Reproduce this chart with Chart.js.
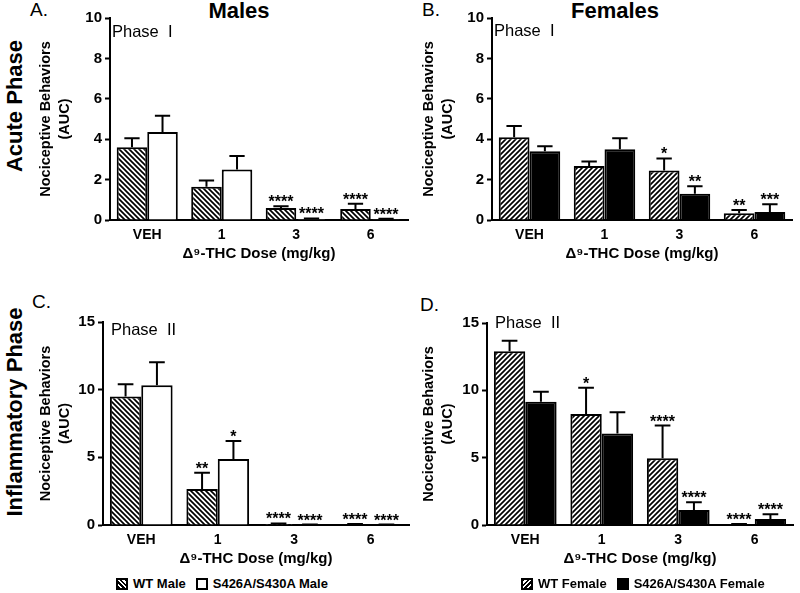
<!DOCTYPE html>
<html>
<head>
<meta charset="utf-8">
<script src="https://cdn.jsdelivr.net/npm/chart.js@4.4.1/dist/chart.umd.min.js"></script>
<style>
  body { margin: 0; background: #fff; }
  #wrap { position: relative; width: 800px; height: 593px; overflow: hidden; font-family: Arial, "Liberation Sans", sans-serif; color: #000; }
  canvas { position: absolute; }
  .lbl { position: absolute; line-height: 1; white-space: nowrap; }
  .panel { font-size: 19px; }
  .col { font-size: 22px; font-weight: bold; text-align: center; width: 120px; }
  .row { font-size: 22px; font-weight: bold; transform: translate(-50%, -50%) rotate(-90deg); }
  .legend { position: absolute; display: flex; align-items: center; font-size: 13px; font-weight: bold; white-space: nowrap; }
  .legend .box { width: 12px; height: 12px; box-sizing: border-box; border: 2px solid #000; margin-right: 5px; }
  .legend .txt { margin-right: 10px; }
</style>
</head>
<body>
<div id="wrap">
  <div class="lbl panel" style="left:30px;top:0">A.</div>
  <div class="lbl panel" style="left:422px;top:0">B.</div>
  <div class="lbl panel" style="left:32px;top:292px">C.</div>
  <div class="lbl panel" style="left:420px;top:295px">D.</div>
  <div class="lbl col" style="left:179px;top:0">Males</div>
  <div class="lbl col" style="left:555px;top:0">Females</div>
  <div class="lbl row" style="left:15px;top:106px">Acute Phase</div>
  <div class="lbl row" style="left:15px;top:412px">Inflammatory Phase</div>

  <canvas id="chartA" width="410" height="270" style="left:0;top:0"></canvas>
  <canvas id="chartB" width="400" height="270" style="left:400px;top:0"></canvas>
  <canvas id="chartC" width="410" height="295" style="left:0;top:280px"></canvas>
  <canvas id="chartD" width="400" height="295" style="left:400px;top:280px"></canvas>

  <div class="legend" style="left:116px;top:576px">
    <span class="box" style="background:repeating-linear-gradient(45deg,#000 0 1.6px,#fff 1.6px 3.4px)"></span><span class="txt">WT Male</span>
    <span class="box" style="background:#fff"></span><span class="txt">S426A/S430A Male</span>
  </div>
  <div class="legend" style="left:521px;top:576px">
    <span class="box" style="background:repeating-linear-gradient(-45deg,#000 0 1.6px,#fff 1.6px 3.4px)"></span><span class="txt">WT Female</span>
    <span class="box" style="background:#000"></span><span class="txt">S426A/S430A Female</span>
  </div>
</div>

<script>
// dose groups
const doses = ['VEH', '1', '3', '6'];

// Phase I (acute) - males
const acuteMaleWT = [3.6, 1.65, 0.6, 0.55];
const acuteMaleWTSem = [0.45, 0.3, 0.08, 0.25];
const acuteMaleWTSig = ['', '', '****', '****'];
const acuteMaleMut = [4.36, 2.5, 0.05, 0.04];
const acuteMaleMutSem = [0.8, 0.67, 0.03, 0.02];
const acuteMaleMutSig = ['', '', '****', '****'];

// Phase I (acute) - females
const acuteFemaleWT = [4.1, 2.67, 2.45, 0.33];
const acuteFemaleWTSem = [0.55, 0.23, 0.6, 0.17];
const acuteFemaleWTSig = ['', '', '*', '**'];
const acuteFemaleMut = [3.4, 3.5, 1.3, 0.4];
const acuteFemaleMutSem = [0.25, 0.55, 0.37, 0.38];
const acuteFemaleMutSig = ['', '', '**', '***'];

// Phase II (inflammatory) - males
const inflMaleWT = [9.5, 2.66, 0.08, 0.05];
const inflMaleWTSem = [0.9, 1.2, 0.04, 0.03];
const inflMaleWTSig = ['', '**', '****', '****'];
const inflMaleMut = [10.33, 4.87, 0.02, 0.02];
const inflMaleMutSem = [1.7, 1.33, 0.01, 0.01];
const inflMaleMutSig = ['', '*', '****', '****'];

// Phase II (inflammatory) - females
const inflFemaleWT = [12.9, 8.25, 4.95, 0.05];
const inflFemaleWTSem = [0.78, 1.95, 2.43, 0.03];
const inflFemaleWTSig = ['', '*', '****', '****'];
const inflFemaleMut = [9.15, 6.8, 1.12, 0.45];
const inflFemaleMutSem = [0.75, 1.57, 0.57, 0.35];
const inflFemaleMutSig = ['', '', '****', '****'];

const FONT = 'Arial, "Liberation Sans", sans-serif';

// diagonal hatch fill, "back" = \\\ , "fwd" = ///
function hatch(dir) {
  const s = 5;
  const c = document.createElement('canvas');
  c.width = s; c.height = s;
  const g = c.getContext('2d');
  g.fillStyle = '#fff';
  g.fillRect(0, 0, s, s);
  g.strokeStyle = '#000';
  g.lineWidth = 1.7;
  g.beginPath();
  if (dir === 'back') {
    g.moveTo(-1, -1); g.lineTo(s + 1, s + 1);
    g.moveTo(-1, s - 1); g.lineTo(1, s + 1);
    g.moveTo(s - 1, -1); g.lineTo(s + 1, 1);
  } else {
    g.moveTo(-1, s + 1); g.lineTo(s + 1, -1);
    g.moveTo(-1, 1); g.lineTo(1, -1);
    g.moveTo(s - 1, s + 1); g.lineTo(s + 1, s - 1);
  }
  g.stroke();
  return g.createPattern(c, 'repeat');
}

// error bars (up only) + significance stars
const errorBars = {
  id: 'errorBars',
  afterDatasetsDraw(chart) {
    const ctx = chart.ctx;
    const y = chart.scales.y;
    chart.data.datasets.forEach((ds, i) => {
      const meta = chart.getDatasetMeta(i);
      meta.data.forEach((bar, j) => {
        const top = y.getPixelForValue(ds.data[j] + ds.sem[j]);
        const half = bar.width / 4;
        ctx.save();
        ctx.strokeStyle = '#000';
        ctx.lineWidth = 2;
        ctx.beginPath();
        ctx.moveTo(bar.x, bar.y);
        ctx.lineTo(bar.x, top);
        ctx.moveTo(bar.x - half, top);
        ctx.lineTo(bar.x + half, top);
        ctx.stroke();
        if (ds.sig[j]) {
          ctx.fillStyle = '#000';
          ctx.font = 'bold 16px ' + FONT;
          ctx.textAlign = 'center';
          ctx.textBaseline = 'alphabetic';
          ctx.fillText(ds.sig[j], bar.x, top + 1);
        }
        ctx.restore();
      });
    });
  }
};

const phaseLabel = {
  id: 'phaseLabel',
  afterDraw(chart, args, opts) {
    const ctx = chart.ctx;
    const a = chart.chartArea;
    ctx.save();
    ctx.fillStyle = '#000';
    ctx.font = '16.5px ' + FONT;
    ctx.textBaseline = 'alphabetic';
    ctx.fillText(opts.text, a.left + opts.dx, a.top + opts.dy);
    ctx.restore();
  }
};

function panel(id, p) {
  new Chart(document.getElementById(id), {
    type: 'bar',
    data: {
      labels: doses,
      datasets: [
        { data: p.wt, sem: p.wtSem, sig: p.wtSig, backgroundColor: p.wtFill,
          borderColor: '#000', borderWidth: 2 },
        { data: p.mut, sem: p.mutSem, sig: p.mutSig, backgroundColor: p.mutFill,
          borderColor: '#000', borderWidth: 2 }
      ]
    },
    options: {
      responsive: false,
      animation: false,
      events: [],
      categoryPercentage: 0.82,
      barPercentage: 1.0,
      layout: { autoPadding: false, padding: p.pad },
      plugins: {
        legend: { display: false },
        tooltip: { enabled: false },
        phaseLabel: p.phase
      },
      scales: {
        x: {
          afterFit: s => { s.height = p.xh; },
          grid: { display: false, drawTicks: false },
          border: { display: true, color: '#000', width: 2 },
          ticks: { color: '#000', padding: 7, font: { family: FONT, size: 14, weight: 'bold' } },
          title: {
            display: true, text: 'Δ⁹-THC Dose (mg/kg)', color: '#000',
            font: { family: FONT, size: 15, weight: 'bold' }
          }
        },
        y: {
          min: 0, max: p.max,
          afterFit: s => { s.width = p.yw; },
          grid: { drawOnChartArea: false, drawTicks: true, tickLength: 5, tickColor: '#000', tickWidth: 2, color: '#000' },
          border: { display: true, color: '#000', width: 2 },
          ticks: { stepSize: p.step, color: '#000', padding: 3, font: { family: FONT, size: 15, weight: 'bold' } },
          title: {
            display: true, text: ['Nociceptive Behaviors', '(AUC)'], color: '#000',
            font: { family: FONT, size: 14.5, weight: 'bold', lineHeight: 1.35 }
          }
        }
      }
    },
    plugins: [errorBars, phaseLabel]
  });
}

const maleHatch = hatch('back');
const femaleHatch = hatch('fwd');

panel('chartA', {
  wt: acuteMaleWT, wtSem: acuteMaleWTSem, wtSig: acuteMaleWTSig, wtFill: maleHatch,
  mut: acuteMaleMut, mutSem: acuteMaleMutSem, mutSig: acuteMaleMutSig, mutFill: '#fff',
  max: 10, step: 2, pad: { left: 32, top: 18, right: 2, bottom: 3 }, yw: 78, xh: 47,
  phase: { text: 'Phase  I', dx: 2, dy: 19 }
});
panel('chartB', {
  wt: acuteFemaleWT, wtSem: acuteFemaleWTSem, wtSig: acuteFemaleWTSig, wtFill: femaleHatch,
  mut: acuteFemaleMut, mutSem: acuteFemaleMutSem, mutSig: acuteFemaleMutSig, mutFill: '#000',
  max: 10, step: 2, pad: { left: 15, top: 18, right: 8, bottom: 3 }, yw: 77, xh: 47,
  phase: { text: 'Phase  I', dx: 2, dy: 18 }
});
panel('chartC', {
  wt: inflMaleWT, wtSem: inflMaleWTSem, wtSig: inflMaleWTSig, wtFill: maleHatch,
  mut: inflMaleMut, mutSem: inflMaleMutSem, mutSig: inflMaleMutSig, mutFill: '#fff',
  max: 15, step: 5, pad: { left: 32, top: 42, right: 1, bottom: 3 }, yw: 71, xh: 47,
  phase: { text: 'Phase  II', dx: 8, dy: 13 }
});
panel('chartD', {
  wt: inflFemaleWT, wtSem: inflFemaleWTSem, wtSig: inflFemaleWTSig, wtFill: femaleHatch,
  mut: inflFemaleMut, mutSem: inflFemaleMutSem, mutSig: inflFemaleMutSig, mutFill: '#000',
  max: 15, step: 5, pad: { left: 15, top: 43, right: 7, bottom: 3 }, yw: 72, xh: 47,
  phase: { text: 'Phase  II', dx: 8, dy: 5 }
});
</script>
</body>
</html>
